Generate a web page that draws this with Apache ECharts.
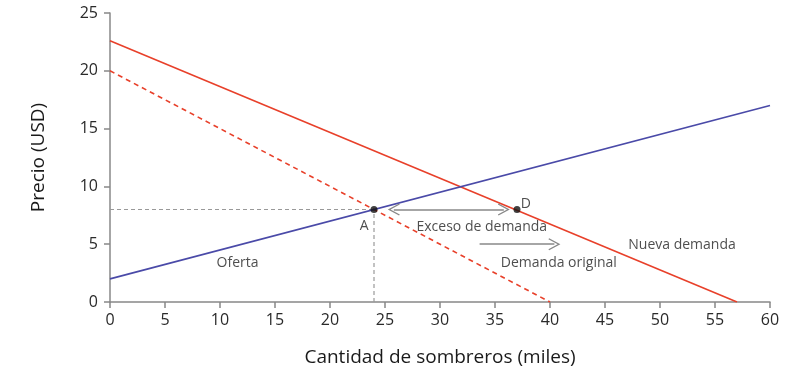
<!DOCTYPE html>
<html><head><meta charset="utf-8">
<script src="https://cdn.jsdelivr.net/npm/echarts@6/dist/echarts.min.js"></script>
<style>html,body{margin:0;padding:0;background:#fff}#c{width:809px;height:386px}</style>
</head><body><div id="c"></div>
<script>
const xTicks = [0,5,10,15,20,25,30,35,40,45,50,55,60];
const yTicks = [0,5,10,15,20,25];
const supply = [[0,2],[60,17]];
const originalDemand = [[0,20],[40,0]];
const newDemand = [[0,22.6],[57,0]];
const equilibriumA = [24,8];
const pointD = [37,8];
const excessArrow = [[25.8,8],[35.8,8]];
const shiftArrow = [[33.6,5],[40.4,5]];
const annotations = [
  {text:'Oferta', q:11.6, p:3.4},
  {text:'Exceso de demanda', q:33.8, p:6.5},
  {text:'Demanda original', q:40.8, p:3.4},
  {text:'Nueva demanda', q:52, p:4.9},
  {text:'A', q:23.1, p:6.6},
  {text:'D', q:37.8, p:8.5}
];
const FONT = '"Open Sans", "Noto Sans", sans-serif';
const chevron = 'path://M0,0 L6,9 L5,9.6 L0,2.2 L-5,9.6 L-6,9 Z';
const chart = echarts.init(document.getElementById('c'));
chart.setOption({
  animation:false,
  grid:{left:110,right:39,top:13,bottom:84},
  xAxis:{type:'value',min:0,max:60,interval:5,
    name:'Cantidad de sombreros (miles)',nameLocation:'middle',nameGap:46,
    nameTextStyle:{fontSize:19,color:'#1a1a1a',fontFamily:FONT},
    axisLine:{lineStyle:{color:'#888',width:1.5}},
    axisTick:{show:true,length:6,lineStyle:{color:'#888',width:1.5}},
    axisLabel:{fontSize:16,color:'#2a2a2a',fontFamily:FONT,margin:10,
      formatter:v=>xTicks.includes(v)?String(v):''},
    splitLine:{show:false}},
  yAxis:{type:'value',min:0,max:25,interval:5,
    name:'Precio (USD)',nameLocation:'middle',nameGap:62,
    nameTextStyle:{fontSize:19,color:'#1a1a1a',fontFamily:FONT},
    axisLine:{show:true,lineStyle:{color:'#888',width:1.5}},
    axisTick:{show:true,length:6,lineStyle:{color:'#888',width:1.5}},
    axisLabel:{fontSize:16,color:'#2a2a2a',fontFamily:FONT,margin:12,
      formatter:v=>yTicks.includes(v)?String(v):''},
    splitLine:{show:false}},
  series:[
    {type:'line',data:[[0,equilibriumA[1]],equilibriumA],symbol:'none',
      lineStyle:{color:'#999',width:1.2,type:[4,3]},z:1},
    {type:'line',data:[[equilibriumA[0],0],equilibriumA],symbol:'none',
      lineStyle:{color:'#999',width:1.2,type:[4,3]},z:1},
    {type:'line',data:originalDemand,symbol:'none',
      lineStyle:{color:'#e8402a',width:1.6,type:[5,4]},z:2},
    {type:'line',data:newDemand,symbol:'none',
      lineStyle:{color:'#e8402a',width:1.6},z:2},
    {type:'line',data:supply,symbol:'none',
      lineStyle:{color:'#4a4aa8',width:1.6},z:2},
    {type:'lines',coordinateSystem:'cartesian2d',
      symbol:[chevron,chevron],symbolSize:[12,12],
      lineStyle:{color:'#888',width:1.5,opacity:1},
      data:[{coords:excessArrow}],z:3},
    {type:'lines',coordinateSystem:'cartesian2d',
      symbol:['none',chevron],symbolSize:[12,12],
      lineStyle:{color:'#888',width:1.5,opacity:1},
      data:[{coords:shiftArrow}],z:3},
    {type:'scatter',data:[equilibriumA,pointD],symbolSize:7,
      itemStyle:{color:'#111'},z:5},
    {type:'scatter',symbolSize:0,z:6,
      data:annotations.map(a=>({value:[a.q,a.p],label:{formatter:a.text}})),
      label:{show:true,position:'inside',fontSize:14,color:'#222',fontFamily:FONT}}
  ]
});
</script></body></html>
